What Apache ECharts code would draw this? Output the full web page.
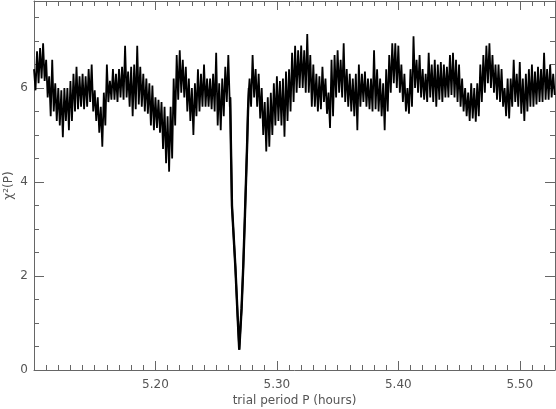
<!DOCTYPE html>
<html>
<head>
<meta charset="utf-8">
<script src="https://cdn.jsdelivr.net/npm/echarts@6/dist/echarts.min.js"></script>
<style>html,body{margin:0;padding:0;background:#fff;}#c{width:556px;height:409px;}</style>
</head>
<body>
<div id="c"></div>
<script>
// Tick labels
const xTicks = [5.20, 5.30, 5.40, 5.50];
const yTicks = [0, 2, 4, 6];

// Left segment: bins of 0.0025 h starting at 5.100 (upper / lower envelope of chi^2)
const leftStart = 5.100;
const binStep = 0.0025;
const upperLeft = [6.4,6.78,6.85,6.95,6.6,6.25,6.6,6.1,6.0,5.95,6.0,6.0,6.15,6.3,6.45,6.25,6.3,6.25,6.4,6.5,
  5.95,5.8,5.6,5.9,6.5,6.15,6.4,6.3,6.4,6.45,6.9,6.35,6.45,6.5,6.9,6.45,6.3,6.2,6.1,6.05,
  5.8,5.75,5.7,5.6,5.4,5.6,6.2,6.7,6.8,6.6,6.45,6.2,6.0,6.1,6.4,6.3,6.5,6.2,6.2,6.3,
  6.75,6.1,6.2,6.45,6.7];
const lowerLeft = [5.95,6.1,6.2,6.15,5.8,5.4,5.5,5.3,5.2,4.95,5.3,5.1,5.3,5.5,5.55,5.6,5.55,5.6,5.7,5.5,
  5.3,5.05,4.75,5.2,5.7,5.75,5.75,5.7,5.8,5.75,5.8,5.6,5.4,5.55,5.65,5.6,5.5,5.45,5.2,5.1,
  5.15,5.05,4.7,4.4,4.22,4.5,5.2,5.75,5.9,5.8,5.5,5.3,5.0,5.4,5.5,5.6,5.6,5.6,5.55,5.5,
  5.2,5.1,5.4,5.7,5.6];

// Deep minimum near 5.269 h
const dipPeriod = [5.2615,5.2622,5.2630,5.2658,5.2677,5.2690,5.2709,5.2723,5.2737,5.2749,5.2755,5.2762,5.2770];
const dipChi2   = [5.8,4.7,3.5,2.2,1.13,0.43,1.3,2.2,3.3,4.3,4.8,5.5,6.0];

// Right segment: bins of 0.0025 h starting at 5.2775
const rightStart = 5.2775;
const upperRight = [6.2,6.7,6.4,6.3,6.0,5.7,5.8,5.9,6.1,6.25,6.15,6.2,6.35,6.4,6.75,6.9,6.8,6.9,6.8,7.15,
  6.7,6.5,6.3,6.25,6.45,6.2,5.9,6.6,6.7,6.8,6.6,6.95,6.4,6.3,6.2,6.3,6.5,6.3,6.35,6.2,
  6.2,6.8,6.4,6.2,6.1,6.4,6.7,6.95,6.95,6.9,6.5,6.3,6.0,6.4,7.1,6.6,6.7,6.4,6.3,6.75,
  6.5,6.6,6.5,6.55,6.5,6.45,6.7,6.75,6.6,6.5,6.2,6.0,5.9,6.1,6.0,6.1,6.5,6.7,6.9,6.95,
  6.7,6.5,6.5,6.4,6.0,6.2,6.2,6.6,6.3,6.55,6.2,6.3,6.4,6.5,6.35,6.45,6.4,6.75,6.4,6.5,
  6.3];
const lowerRight = [5.6,5.8,5.6,5.35,5.0,4.65,4.75,5.0,5.2,5.3,5.2,4.96,5.3,5.5,5.7,5.9,6.0,6.0,5.9,5.9,
  5.6,5.6,5.5,5.55,5.7,5.45,5.15,5.4,5.8,5.9,5.8,5.7,5.6,5.5,5.4,5.1,5.6,5.7,5.6,5.55,
  5.5,5.55,5.5,5.4,5.1,5.5,5.9,6.1,6.0,5.9,5.7,5.5,5.45,5.6,6.0,5.9,5.8,5.75,5.7,5.8,
  5.7,5.6,5.75,5.7,5.8,5.8,5.85,5.8,5.7,5.6,5.5,5.4,5.3,5.35,5.28,5.4,5.7,5.9,6.1,6.0,
  5.9,5.75,5.7,5.6,5.4,5.35,5.6,5.7,5.6,5.45,5.3,5.5,5.6,5.6,5.65,5.7,5.7,5.75,5.75,5.8,
  5.85];

function envelope(start, up, lo) {
  const pts = [];
  for (let i = 0; i < up.length; i++) {
    const p = start + i * binStep;
    pts.push([+(p).toFixed(5), up[i]]);
    pts.push([+(p + binStep / 2).toFixed(5), lo[i]]);
  }
  return pts;
}
const dipData = dipPeriod.map((p, i) => [p, dipChi2[i]]);
const data = []
  .concat(envelope(leftStart, upperLeft, lowerLeft))
  .concat(dipData)
  .concat(envelope(rightStart, upperRight, lowerRight));

const axisCol = '#666';
const labCol = '#555';
const font = 'DejaVu Sans';
function xAx(pos, show) {
  return {
    type: 'value', position: pos, min: 5.10, max: 5.529, interval: 0.1,
    axisLine: { show: true, onZero: false, lineStyle: { color: axisCol, width: 1 } },
    axisTick: { show: true, inside: true, length: 9, lineStyle: { color: axisCol } },
    minorTick: { show: true, splitNumber: 10, length: 5, lineStyle: { color: axisCol } },
    splitLine: { show: false },
    axisLabel: {
      show: show, color: labCol, fontSize: 12, fontFamily: font, margin: 9,
      showMinLabel: false, showMaxLabel: false,
      formatter: v => xTicks.some(t => Math.abs(t - v) < 1e-6) ? v.toFixed(2) : ''
    },
    name: show ? 'trial period P (hours)' : '',
    nameLocation: 'middle', nameGap: 25, nameMoveOverlap: false,
    nameTextStyle: { color: labCol, fontSize: 12, fontFamily: font }
  };
}
function yAx(pos, show) {
  return {
    type: 'value', position: pos, min: 0, max: 7.85, interval: 2,
    axisLine: { show: true, onZero: false, lineStyle: { color: axisCol, width: 1 } },
    axisTick: { show: true, inside: true, length: 10, lineStyle: { color: axisCol } },
    minorTick: { show: true, splitNumber: 4, length: 5, lineStyle: { color: axisCol } },
    splitLine: { show: false },
    axisLabel: {
      show: show, color: labCol, fontSize: 12, fontFamily: font, margin: 6,
      showMaxLabel: false,
      formatter: v => yTicks.indexOf(v) >= 0 ? String(v) : ''
    },
    name: show ? 'χ²(P)' : '',
    nameLocation: 'middle', nameGap: 19, nameRotate: 90, nameMoveOverlap: false,
    nameTextStyle: { color: labCol, fontSize: 12, fontFamily: font }
  };
}

const chart = echarts.init(document.getElementById('c'), null, { renderer: 'canvas' });
chart.setOption({
  animation: false,
  backgroundColor: '#fff',
  grid: { left: 34, right: 1, top: 1, bottom: 39, containLabel: false, outerBoundsMode: 'none' },
  xAxis: [xAx('bottom', true), xAx('top', false)],
  yAxis: [yAx('left', true), yAx('right', false)],
  series: [{
    type: 'line', data: data, xAxisIndex: 0, yAxisIndex: 0,
    showSymbol: false, symbol: 'none', sampling: null,
    lineStyle: { color: '#000', width: 1.8 }
  }, {
    type: 'line', data: dipData, xAxisIndex: 0, yAxisIndex: 0,
    showSymbol: false, symbol: 'none',
    lineStyle: { color: '#000', width: 2.4 }
  }]
});
</script>
</body>
</html>
